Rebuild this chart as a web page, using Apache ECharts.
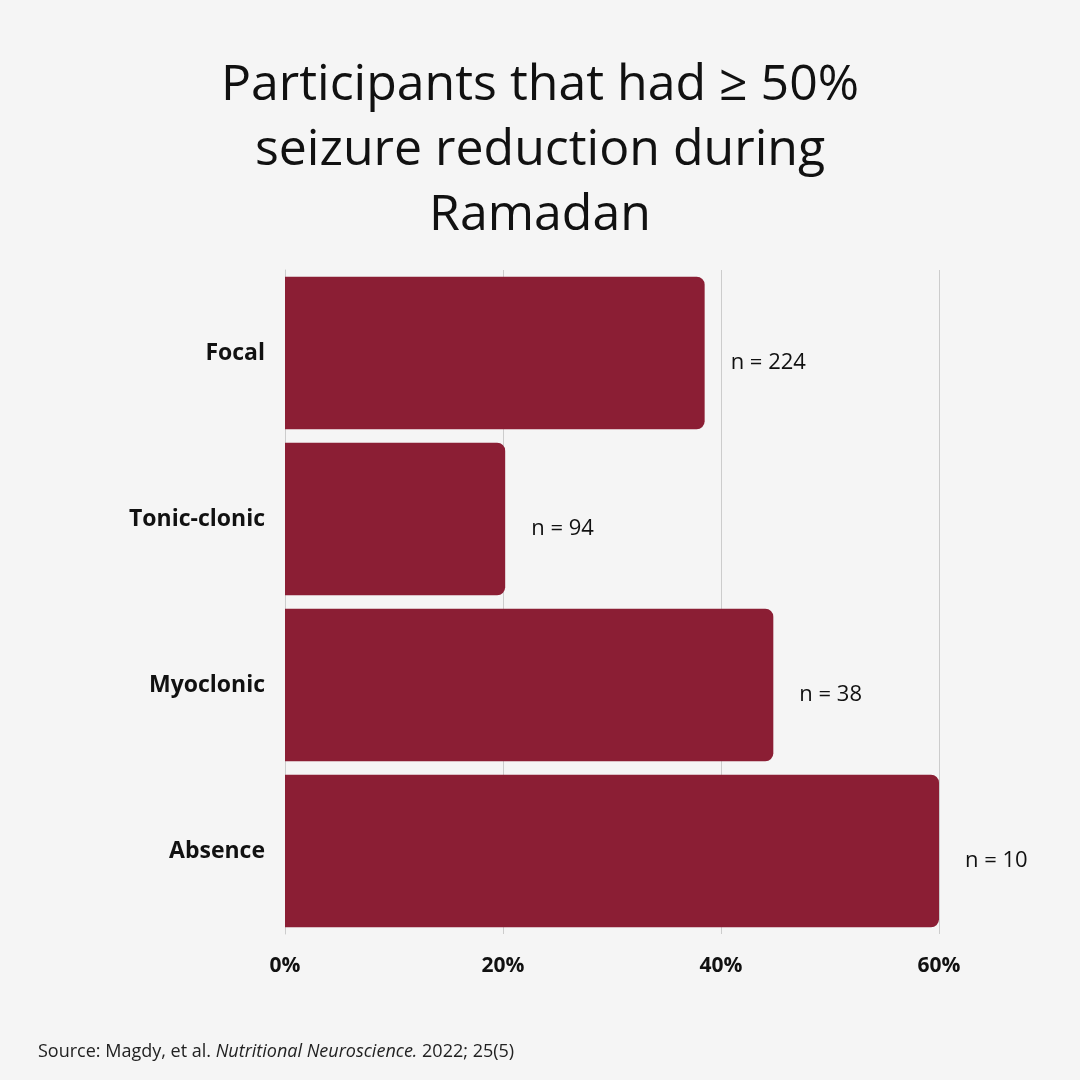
<!DOCTYPE html>
<html>
<head>
<meta charset="utf-8">
<script src="https://cdn.jsdelivr.net/npm/echarts@6/dist/echarts.min.js"></script>
<style>html,body{margin:0;padding:0;background:#f5f5f5}#c{width:1080px;height:1080px}</style>
</head>
<body>
<div id="c"></div>
<script>
const categories = ['Focal', 'Tonic-clonic', 'Myoclonic', 'Absence'];
const percentValues = [38.5, 20.2, 44.8, 60.1];
const sampleLabels = ['n = 224', 'n = 94', 'n = 38', 'n = 10'];
const tickValues = [0, 20, 40, 60];

const chart = echarts.init(document.getElementById('c'));
const font = '"Open Sans", Lato, sans-serif';

chart.setOption({
  backgroundColor: '#f5f5f5',
  title: {
    text: 'Participants that had \u2265 50%\nseizure reduction during\nRamadan',
    left: 'center',
    top: 48,
    textStyle: { fontFamily: font, fontSize: 50, fontWeight: 'normal', color: '#111', lineHeight: 65 }
  },
  graphic: [{
    type: 'text',
    left: 38,
    top: 1043,
    style: {
      rich: {
        a: { fontFamily: font, fontSize: 18, fill: '#222' },
        b: { fontFamily: font, fontSize: 18, fontStyle: 'italic', fill: '#222' }
      },
      text: '{a|Source: Magdy, et al. }{b|Nutritional Neuroscience.}{a| 2022; 25(5)}'
    }
  }],
  grid: { left: 285, right: 141, top: 270, bottom: 146 },
  xAxis: {
    type: 'value', min: 0, max: 60, interval: 20,
    axisLine: { show: false },
    axisTick: { show: false },
    splitLine: { show: true, lineStyle: { color: '#cccccc', width: 1 } },
    axisLabel: {
      formatter: v => tickValues.includes(v) ? v + '%' : '',
      fontFamily: font, fontSize: 21, fontWeight: 'bold', color: '#111', margin: 22
    }
  },
  yAxis: {
    type: 'category', data: categories, inverse: true,
    axisLine: { show: true, lineStyle: { color: '#cccccc' } },
    axisTick: { show: false },
    axisLabel: { fontFamily: font, fontSize: 23, fontWeight: 'bold', color: '#111', margin: 20 }
  },
  series: [{
    type: 'bar',
    data: percentValues,
    barCategoryGap: '8%',
    itemStyle: { color: '#8b1e34', borderRadius: [0, 8, 8, 0] },
    label: {
      show: true, position: 'right', distance: 26, offset: [0, 10],
      formatter: p => sampleLabels[p.dataIndex],
      fontFamily: font, fontSize: 22, color: '#111'
    }
  }]
});
</script>
</body>
</html>
